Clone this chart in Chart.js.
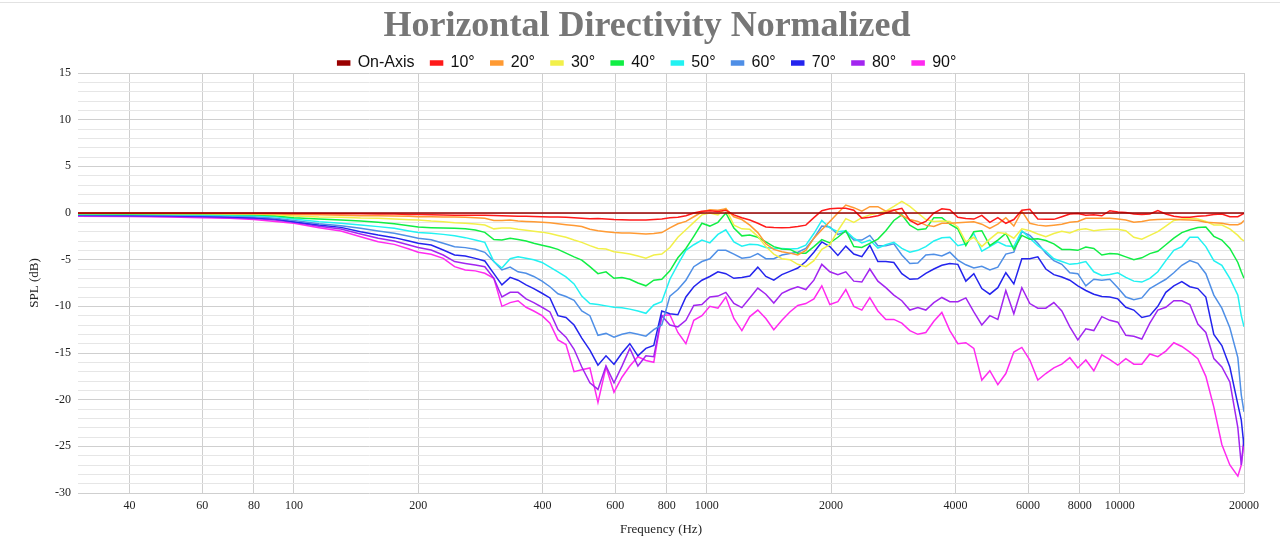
<!DOCTYPE html>
<html>
<head>
<meta charset="utf-8">
<title>Horizontal Directivity Normalized</title>
<script src="https://cdn.jsdelivr.net/npm/chart.js@4.4.1/dist/chart.umd.min.js"></script>
<style>
  html, body { margin: 0; padding: 0; background: #fff; }
  #wrap { width: 1280px; height: 550px; position: relative; }
  #topline { position: absolute; left: 0; top: 2px; width: 1280px; height: 0; border-top: 1px solid #e2e2e2; }
</style>
</head>
<body>
<div id="wrap">
  <div id="topline"></div>
  <canvas id="dirChart" width="1280" height="550"></canvas>
</div>
<script>
// frequency points (Hz)
const freqs = [
  30, 40, 50, 60, 70, 80, 90, 100, 115, 130, 145, 160, 175, 190, 200, 215, 230, 245, 260, 275, 290,
  305, 319, 334, 349, 365, 381, 399, 417, 436, 456, 477, 498, 521, 545, 570, 596, 623, 651, 681, 712,
  744, 778, 814, 851, 890, 930, 973, 1017, 1064, 1112, 1163, 1216, 1271, 1329, 1390, 1453, 1520, 1589,
  1661, 1737, 1817, 1899, 1986, 2077, 2171, 2270, 2374, 2482, 2596, 2714, 2838, 2967, 3103, 3244, 3392,
  3547, 3709, 3878, 4055, 4240, 4433, 4635, 4847, 5068, 5299, 5541, 5794, 6058, 6334, 6623, 6926, 7241,
  7572, 7917, 8278, 8656, 9051, 9464, 9896, 10347, 10819, 11313, 11829, 12369, 12933, 13523, 14140,
  14786, 15460, 16166, 16903, 17675, 18481, 19325, 19700, 20000
];

const onAxis = [
  0, 0, 0, 0, 0, 0, 0, 0, 0, 0, 0, 0, 0, 0, 0, 0, 0, 0, 0, 0, 0,
  0, 0, 0, 0, 0, 0, 0, 0, 0, 0, 0, 0, 0, 0, 0, 0, 0, 0, 0, 0,
  0, 0, 0, 0, 0, 0, 0, 0, 0, 0, 0, 0, 0, 0, 0, 0, 0, 0,
  0, 0, 0, 0, 0, 0, 0, 0, 0, 0, 0, 0, 0, 0, 0, 0, 0,
  0, 0, 0, 0, 0, 0, 0, 0, 0, 0, 0, 0, 0, 0, 0, 0, 0,
  0, 0, 0, 0, 0, 0, 0, 0, 0, 0, 0, 0, 0, 0, 0, 0, 0,
  0, 0, 0, 0, 0, 0, 0, 0, 0
];

const deg10 = [
  -0.02, -0.02, -0.02, -0.03, -0.03, -0.03, -0.04, -0.05, -0.06, -0.07, -0.08, -0.1, -0.12, -0.15, -0.17, -0.19, -0.21, -0.23, -0.25, -0.25, -0.25,
  -0.27, -0.3, -0.32, -0.34, -0.36, -0.38, -0.4, -0.42, -0.44, -0.45, -0.5, -0.55, -0.62, -0.6, -0.65, -0.7, -0.72, -0.75, -0.75, -0.75,
  -0.7, -0.65, -0.5, -0.45, -0.3, 0, 0.2, 0.25, 0.15, 0.3, -0.2, -0.5, -0.75, -1.1, -1.5, -1.55, -1.57, -1.55,
  -1.45, -1.3, -0.5, 0.25, 0.45, 0.5, 0.5, 0.3, -0.55, -0.45, -0.3, 0, 0.3, 0.5, -0.8, -1.25, -0.9,
  0, 0.45, 0.35, -0.45, -0.6, -0.65, -0.25, -1.0, -0.5, -1.1, -0.7, 0.3, 0.4, -0.65, -0.68, -0.68, -0.4,
  -0.1, -0.05, -0.25, -0.2, -0.3, 0.25, 0.1, 0.05, -0.1, -0.15, -0.1, 0.25, -0.1, -0.35, -0.45,
  -0.45, -0.35, -0.3, -0.15, -0.1, -0.4, -0.4, -0.2, -0.05
];

const deg20 = [
  -0.02, -0.03, -0.03, -0.04, -0.05, -0.08, -0.12, -0.16, -0.2, -0.25, -0.29, -0.29, -0.32, -0.36, -0.4, -0.39, -0.43, -0.43, -0.46, -0.5, -0.57,
  -0.8, -0.8, -0.75, -0.85, -0.9, -0.95, -1.0, -1.05, -1.15, -1.25, -1.35, -1.45, -1.75, -1.9, -2.0, -2.1, -2.15, -2.15, -2.2, -2.25,
  -2.2, -2.1, -1.6, -1.15, -0.9, -0.4, 0.1, 0.35, 0.3, 0.45, -0.4, -0.7, -1.3, -2.1, -3.3, -3.9, -4.15, -4.3,
  -4.5, -4.0, -2.7, -1.8, -0.9, 0, 0.85, 0.57, 0.2, 0.68, 0.68, 0.2, 0.35, -0.3, -0.7, -0.9, -1.3,
  -1.45, -1.1, -1.1, -1.05, -1.0, -0.95, -1.2, -1.65, -1.2, -0.5, -1.4, 0.2, -1.1, -1.3, -1.4, -1.3,
  -1.2, -1.0, -0.9, -0.57, -0.57, -0.57, -0.57, -0.65, -0.75, -1.0, -0.9, -0.75, -0.7, -0.68, -0.68,
  -0.72, -0.75, -0.8, -1.0, -1.05, -1.1, -1.25, -1.25, -1.1, -0.8
];

const deg30 = [
  -0.05, -0.06, -0.07, -0.08, -0.1, -0.12, -0.2, -0.32, -0.43, -0.46, -0.54, -0.57, -0.64, -0.71, -0.75, -0.86, -0.93, -1.04, -1.11, -1.18, -1.29,
  -1.7, -1.6, -1.62, -1.75, -1.85, -1.95, -2.05, -2.2, -2.4, -2.6, -2.9, -3.15, -3.5, -3.8, -3.85, -4.15, -4.25, -4.4, -4.6, -4.85,
  -4.5, -4.4, -3.7, -2.6, -1.8, -1.0, -0.2, 0.0, -0.2, 0.5, -1.3, -1.7, -1.75, -2.5, -3.6, -4.4, -4.9, -5.0,
  -5.5, -5.75, -5.1, -3.9, -3.4, -1.9, -0.6, -1.0, -0.5, -0.2, 0, 0.2, 0.7, 1.25, 0.7, 0, -0.7,
  -0.9, -0.85, -0.9, -1.5, -3.1, -2.6, -3.6, -2.8, -2.1, -2.2, -2.7, -1.7, -1.9, -2.25, -2.54, -2.2,
  -1.95, -2.15, -1.8, -1.7, -1.9, -1.8, -1.75, -1.75, -1.9, -2.6, -2.8, -2.4, -2.0, -1.4, -0.8,
  -0.65, -0.57, -0.65, -0.9, -1.29, -1.29, -1.7, -2.4, -2.8, -3.0
];

const deg40 = [
  -0.08, -0.1, -0.11, -0.13, -0.16, -0.2, -0.3, -0.5, -0.64, -0.75, -0.86, -1.0, -1.14, -1.36, -1.5, -1.57, -1.61, -1.64, -1.68, -1.82, -2.07,
  -2.85, -2.9, -2.7, -2.85, -3.0, -3.25, -3.45, -3.65, -3.9, -4.3, -4.7, -5.05, -5.75, -6.5, -6.3, -7.0, -6.9, -7.1, -7.5, -7.8,
  -7.2, -7.1, -6.2, -4.8, -3.8, -2.5, -1.1, -1.4, -1.0, 0, -1.6, -2.45, -2.35, -2.6, -3.1, -3.6, -3.85, -3.9,
  -4.3, -4.3, -3.6, -2.85, -3.2, -2.6, -1.9, -3.6, -3.7, -3.25, -2.8, -1.9, -0.8, -0.2, -1.3, -1.8, -1.7,
  -0.5, -0.5, -1.2, -1.7, -3.5, -2.0, -1.9, -3.5, -2.9, -2.2, -3.9, -2.4, -2.8, -2.75, -2.95, -3.3,
  -3.9, -3.9, -4.0, -3.65, -3.8, -4.5, -4.35, -4.4, -4.7, -5.0, -4.8, -4.35, -4.1, -3.4, -2.7,
  -2.1, -1.8, -1.55, -1.5, -2.5, -2.9, -3.8, -5.3, -6.3, -7.0
];

const deg50 = [
  -0.12, -0.14, -0.16, -0.2, -0.24, -0.3, -0.4, -0.64, -0.93, -1.1, -1.29, -1.46, -1.64, -1.93, -2.1, -2.18, -2.29, -2.43, -2.64, -2.89, -3.14,
  -5.2, -5.9, -4.9, -4.7, -4.86, -5.0, -5.3, -5.8, -6.3, -6.85, -7.6, -8.9, -9.7, -9.8, -9.95, -10.1, -10.15, -10.3, -10.5, -10.75,
  -9.85, -9.5, -7.1, -5.5, -4.0, -3.4, -2.9, -3.2, -2.3, -1.8, -3.1, -3.55, -3.35, -3.4, -3.7, -3.8, -3.8, -3.85,
  -3.8, -3.45, -2.2, -0.8, -1.6, -2.0, -1.9, -2.7, -3.2, -2.9, -3.75, -3.4, -3.15, -3.8, -4.2, -4.0, -3.6,
  -3.0, -2.65, -2.6, -3.5, -3.3, -2.2, -4.1, -3.6, -3.1, -3.5, -3.6, -1.9, -2.7, -3.5, -4.1, -4.9,
  -5.2, -5.5, -5.4, -5.2, -6.3, -6.7, -6.6, -6.4, -6.9, -7.3, -7.4, -7.0, -6.3, -5.1, -4.0,
  -3.6, -2.6, -2.6, -3.6, -5.1, -5.6, -7.0, -8.8, -11.0, -12.2
];

const deg60 = [
  -0.18, -0.2, -0.22, -0.27, -0.32, -0.4, -0.55, -0.8, -1.14, -1.36, -1.64, -1.93, -2.18, -2.5, -2.7, -2.86, -3.25, -3.61, -3.71, -3.89, -4.21,
  -5.2, -6.1, -5.8, -6.3, -6.45, -6.8, -7.3, -7.9, -8.65, -8.95, -9.35, -10.5, -11.0, -13.1, -12.9, -13.3, -13.0, -12.8, -13.0, -13.2,
  -12.5, -12.0, -8.9, -8.2, -7.2, -5.75, -5.2, -4.9, -4.0, -4.0, -4.4, -4.85, -4.75, -4.35, -4.9, -4.9, -4.5, -4.35,
  -4.2, -3.8, -2.7, -1.4, -1.5, -2.3, -2.0, -2.9, -2.9, -2.4, -3.5, -3.5, -3.3, -4.5, -5.4, -5.35, -4.5,
  -4.43, -4.6, -4.2, -5.05, -5.55, -5.9, -5.7, -6.1, -5.8, -4.4, -4.2, -2.0, -2.4, -3.25, -4.3, -5.1,
  -5.5, -6.4, -6.5, -7.8, -7.1, -7.2, -7.1, -8.0, -9.0, -9.3, -9.1, -8.1, -7.6, -7.1, -6.4,
  -5.6, -5.1, -5.4, -6.5, -8.8, -10.2, -12.3, -15.5, -19.5, -21.3
];

const deg70 = [
  -0.25, -0.28, -0.3, -0.36, -0.42, -0.5, -0.65, -0.93, -1.29, -1.54, -2.0, -2.36, -2.64, -3.0, -3.25, -3.43, -3.96, -4.5, -4.61, -4.86, -5.14,
  -6.5, -7.7, -6.9, -7.2, -7.7, -8.1, -8.6, -9.1, -11.0, -11.2, -12.0, -13.4, -14.7, -16.3, -15.3, -16.2, -15.0, -14.0, -15.3, -14.5,
  -14.2, -10.5, -10.8, -10.9, -9.0, -7.9, -7.2, -6.8, -6.3, -6.5, -7.0, -6.9, -6.75, -5.8, -6.8, -7.2, -6.6, -6.25,
  -5.9, -5.2, -4.2, -3.1, -3.6, -4.55, -3.55, -4.4, -4.68, -3.45, -5.2, -5.2, -5.3, -6.5, -7.1, -7.05, -6.46,
  -6.0, -5.6, -5.4, -5.5, -7.3, -6.5, -8.1, -8.7, -8.0, -6.4, -7.6, -4.9, -4.9, -4.7, -6.0, -6.6,
  -6.85, -7.2, -7.8, -8.3, -8.7, -8.95, -9.0, -9.2, -10.1, -10.4, -11.2, -11.0, -10.0, -8.5, -7.8,
  -7.36, -7.9, -8.1, -9.0, -13.0, -14.2, -16.5, -20.5, -22.2, -25.0
];

const deg80 = [
  -0.3, -0.33, -0.37, -0.43, -0.5, -0.6, -0.75, -1.0, -1.43, -1.71, -2.25, -2.71, -3.0, -3.43, -3.7, -3.96, -4.5, -5.2, -5.4, -5.57, -5.75,
  -7.0, -9.0, -8.5, -8.5, -9.2, -9.6, -10.1, -10.6, -12.5, -13.3, -14.6, -16.5, -18.2, -18.9, -16.4, -18.2, -16.4, -14.5, -16.4, -15.3,
  -15.4, -11.0, -12.0, -12.2, -11.5, -9.9, -9.8, -9.0, -8.9, -8.5, -9.7, -10.14, -9.1, -8.05, -8.7, -9.65, -8.6, -8.2,
  -7.9, -8.2, -7.2, -5.5, -6.3, -6.6, -6.3, -7.3, -7.4, -6.0, -7.3, -8.0, -8.8, -9.4, -10.4, -10.14, -10.4,
  -9.6, -9.05, -9.5, -9.5, -9.1, -10.6, -12.0, -11.0, -11.4, -8.3, -10.8, -8.0, -9.7, -10.2, -10.2, -9.6,
  -10.5, -12.2, -13.6, -12.4, -12.6, -11.1, -11.5, -11.7, -13.1, -13.2, -13.5, -11.8, -10.4, -10.1, -9.4,
  -9.4, -9.8, -11.9, -12.8, -15.6, -16.5, -18.1, -23.0, -27.0, -24.0
];

const deg90 = [
  -0.35, -0.38, -0.42, -0.5, -0.57, -0.7, -0.9, -1.1, -1.57, -1.93, -2.54, -3.07, -3.36, -3.86, -4.2, -4.43, -4.86, -5.75, -6.1, -6.2, -6.46,
  -7.0, -10.0, -9.6, -9.4, -10.1, -10.5, -11.0, -11.8, -13.6, -14.1, -17.0, -16.8, -16.6, -20.3, -16.5, -19.2, -17.6, -16.4, -15.4, -15.8,
  -16.0, -11.0, -10.9, -12.8, -14.0, -11.5, -11.0, -10.0, -10.2, -9.0, -11.3, -12.6, -11.1, -10.4, -11.3, -12.5, -11.5, -10.6,
  -9.9, -9.7, -9.2, -7.8, -9.8, -9.5, -8.2, -10.0, -10.4, -9.07, -10.5, -11.4, -11.4, -11.8, -12.6, -13.0, -12.8,
  -11.6, -10.65, -12.6, -14.0, -13.9, -14.5, -17.9, -16.9, -18.4, -17.2, -14.9, -14.4, -15.75, -17.9, -17.2, -16.6,
  -16.2, -15.5, -16.6, -15.75, -16.9, -15.2, -15.7, -16.3, -15.6, -16.2, -16.2, -15.1, -15.4, -14.8, -13.9,
  -14.3, -14.9, -15.6, -17.5, -20.8, -24.8, -27.0, -28.2, -27.0, -24.5
];

const seriesNames = ['On-Axis', '10°', '20°', '30°', '40°', '50°', '60°', '70°', '80°', '90°'];
const seriesValues = [onAxis, deg10, deg20, deg30, deg40, deg50, deg60, deg70, deg80, deg90];
const seriesColors = ['#990000', '#ff1a1a', '#ff9a33', '#f2f04a', '#11ee44', '#22f2f2', '#4f8fe6', '#2424ee', '#a225f0', '#ff2af0'];

const xTicks = [40, 60, 80, 100, 200, 400, 600, 800, 1000, 2000, 4000, 6000, 8000, 10000, 20000];

const datasets = seriesNames.map((name, s) => ({
  label: name,
  data: freqs.map((f, i) => ({ x: f, y: seriesValues[s][i] })),
  borderColor: seriesColors[s],
  backgroundColor: seriesColors[s],
  borderWidth: 1.5,
  pointRadius: 0,
  tension: 0,
  fill: false,
}));

const serif = "'Liberation Serif', 'Times New Roman', serif";

const ctx = document.getElementById('dirChart').getContext('2d');
const chart = new Chart(ctx, {
  type: 'line',
  data: { datasets: datasets },
  options: {
    responsive: false,
    animation: false,
    layout: { padding: { left: 14, right: 0, top: 0, bottom: 0 } },
    plugins: {
      title: {
        display: true,
        text: 'Horizontal Directivity Normalized',
        color: '#777777',
        font: { family: serif, size: 36, weight: 'bold', lineHeight: 1 },
        padding: { top: 9, bottom: -6 },
      },
      legend: {
        display: true,
        maxHeight: 34,
        labels: {
          color: '#111',
          font: { family: "'Liberation Sans', Arial, sans-serif", size: 16 },
          boxWidth: 12,
          boxHeight: 4,
          padding: 16,
        },
      },
      tooltip: { enabled: false },
    },
    scales: {
      x: {
        type: 'logarithmic',
        min: 30,
        max: 20000,
        afterBuildTicks: (axis) => {
          axis.ticks = xTicks.map(v => ({ value: v }));
        },
        afterFit: (axis) => { axis.height = 57; },
        ticks: {
          autoSkip: false,
          maxRotation: 0,
          padding: 6,
          color: '#222',
          font: { family: serif, size: 12 },
          callback: (v) => String(v),
        },
        grid: { color: '#cfcfcf', drawTicks: false },
        border: { display: false },
        title: {
          display: true,
          text: 'Frequency (Hz)',
          color: '#222',
          font: { family: serif, size: 13 },
          padding: { top: 0, bottom: 13 },
        },
      },
      y: {
        min: -30,
        max: 15,
        afterFit: (axis) => { axis.width = 64; },
        ticks: {
          stepSize: 1,
          autoSkip: false,
          padding: 7,
          color: '#222',
          font: { family: serif, size: 12 },
          callback: (v) => (v % 5 === 0 ? String(v) : ''),
        },
        grid: {
          drawTicks: false,
          color: (c) => (c.tick && c.tick.value % 5 === 0 ? '#cfcfcf' : '#e6e6e6'),
        },
        border: { display: false },
        title: {
          display: true,
          text: 'SPL (dB)',
          color: '#222',
          font: { family: serif, size: 13 },
          padding: { top: 13, bottom: 0 },
        },
      },
      // empty right margin so the plot ends at 20 kHz like the original
      yRight: {
        position: 'right',
        display: true,
        afterFit: (axis) => { axis.width = 36; },
        ticks: { display: false },
        grid: { display: false },
        border: { display: false },
      },
    },
  },
});
</script>
</body>
</html>
